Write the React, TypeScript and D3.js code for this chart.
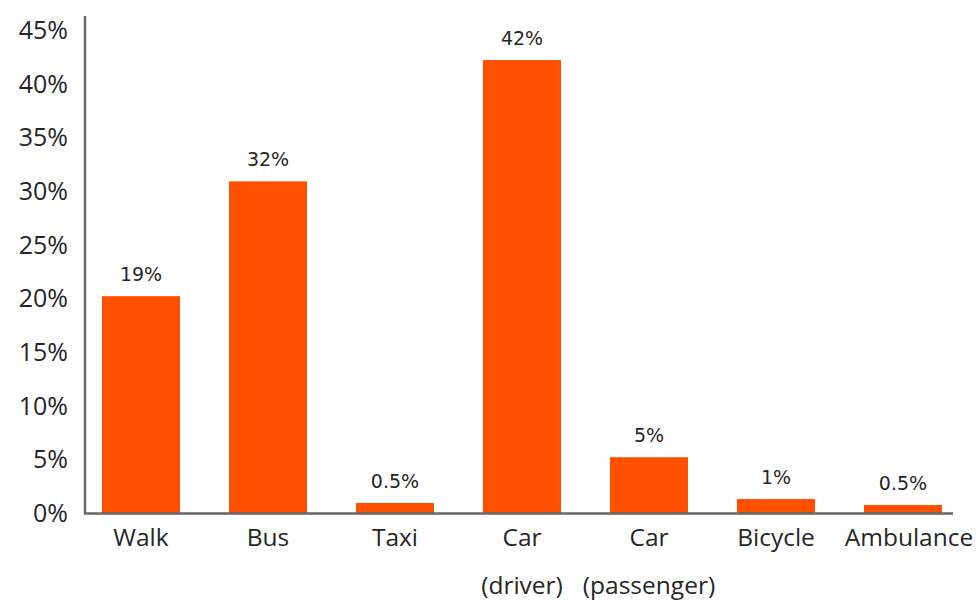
import React from "react";
import * as d3 from "d3";

const categories: string[][] = [["Walk"], ["Bus"], ["Taxi"], ["Car", "(driver)"], ["Car", "(passenger)"], ["Bicycle"], ["Ambulance"]];
const values: number[] = [20.2, 30.9, 0.93, 42.2, 5.2, 1.3, 0.75];
const valueLabels: string[] = ["19%", "32%", "0.5%", "42%", "5%", "1%", "0.5%"];
const yTicks: number[] = [0, 5, 10, 15, 20, 25, 30, 35, 40, 45];

const W = 979;
const H = 601;

export default function App() {
  const keys = categories.map((c) => c.join(" "));
  const x = d3.scaleBand<string>().domain(keys).range([85, 959]).paddingInner(0.386).paddingOuter(0.134);
  const y = d3.scaleLinear().domain([0, 45]).range([513, 30]);
  const axisFont = "'Open Sans', 'Segoe UI', sans-serif";
  return (
    <svg width={W} height={H} style={{ position: "absolute", left: 0, top: 0 }}>
      <rect x={0} y={0} width={W} height={H} fill="#fff" />
      {values.map((v, i) => (
        <rect key={i} x={x(keys[i])} y={y(v)} width={x.bandwidth()} height={y(0) - y(v)} fill="#FF5000" />
      ))}
      {values.map((v, i) => (
        <text key={"l" + i} x={(x(keys[i]) as number) + x.bandwidth() / 2} y={y(v) - 15} textAnchor="middle"
          fontFamily="'DejaVu Sans', sans-serif" fontSize={19} fill="#262626">{valueLabels[i]}</text>
      ))}
      <line x1={85} x2={85} y1={16} y2={514} stroke="#666" strokeWidth={2.5} />
      <line x1={84} x2={953} y1={513.5} y2={513.5} stroke="#666" strokeWidth={2.5} />
      {yTicks.map((t) => (
        <text key={"t" + t} x={68} y={y(t) + 9} textAnchor="end" fontFamily={axisFont} fontSize={25} fill="#262626">{t}%</text>
      ))}
      {categories.map((c, i) =>
        c.map((line, j) => (
          <text key={"c" + i + "_" + j} x={(x(keys[i]) as number) + x.bandwidth() / 2 + (i === 6 ? 6 : 0)} y={546 + j * 48} textAnchor="middle"
            fontFamily={axisFont} fontSize={24.5} fill="#262626">{line}</text>
        ))
      )}
    </svg>
  );
}
